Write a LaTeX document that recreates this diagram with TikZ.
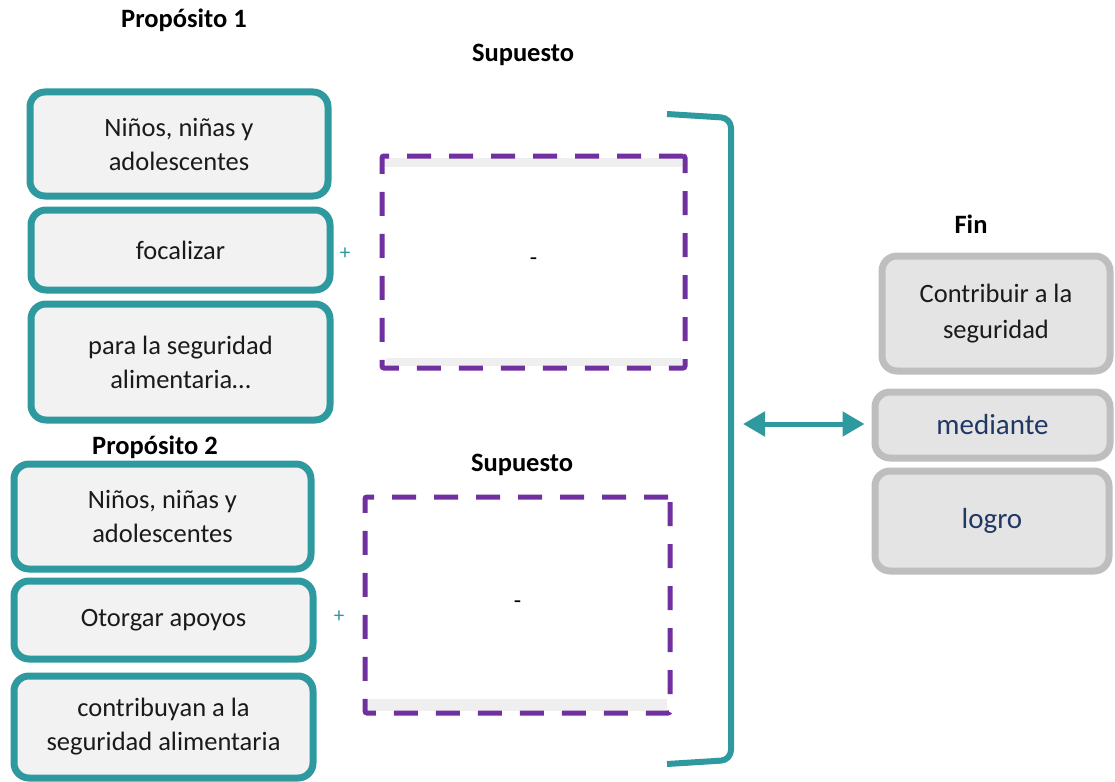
\documentclass[tikz,border=0pt]{standalone}
\usepackage{fontspec}
\setmainfont{Carlito}
\usetikzlibrary{arrows.meta}
\definecolor{tealc}{HTML}{2E9AA0}
\definecolor{purp}{HTML}{7030A0}
\definecolor{lfill}{HTML}{F2F2F2}
\definecolor{rfill}{HTML}{E4E4E4}
\definecolor{rline}{HTML}{BEBEBE}
\definecolor{navy}{HTML}{1F3864}
\definecolor{txt}{HTML}{1A1A1A}
\definecolor{strip}{HTML}{EFEFEF}
\tikzset{
  lbox/.style={draw=tealc, line width=7pt, fill=lfill, rounded corners=15pt, align=center,
    text=txt, font=\fontsize{26.5}{34}\selectfont, inner sep=0pt},
  rbox/.style={draw=rline, line width=7pt, fill=rfill, rounded corners=15pt, align=center,
    text=txt, font=\fontsize{26.5}{36}\selectfont, inner sep=0pt},
  dbox/.style={draw=purp, line width=5pt, dash pattern=on 24pt off 18pt, rounded corners=2pt,
    inner sep=0pt, font=\fontsize{24}{28}\selectfont},
  head/.style={font=\bfseries\fontsize{26.5}{30}\selectfont, text=black, inner sep=0pt},
  plus/.style={text=tealc, font=\fontsize{21}{24}\selectfont, inner sep=0pt},
  bracket/.style={draw=tealc, line width=6pt, rounded corners=10pt},
}
\begin{document}
\begin{tikzpicture}[x=1pt,y=-1pt]
\useasboundingbox[fill=white] (0,0) rectangle (1115,781);
% headings
\node[head] (h1) at (184,20) {Propósito 1};
\node[head] (s1) at (523,55) {Supuesto};
\node[head] (fin) at (971,224) {Fin};
\node[head] (h2) at (155,447) {Propósito 2};
\node[head] (s2) at (522,465) {Supuesto};
% left boxes, purpose 1
\node[lbox, minimum width=298pt, minimum height=104pt] (a1) at (179,144) {Niños, niñas y\\adolescentes};
\node[lbox, minimum width=299pt, minimum height=80pt] (a2) at (180.5,250) {focalizar};
\node[lbox, minimum width=299pt, minimum height=116pt] (a3) at (180.5,362) {para la seguridad\\alimentaria…};
% left boxes, purpose 2
\node[lbox, minimum width=297pt, minimum height=105pt] (b1) at (162.5,516.5) {Niños, niñas y\\adolescentes};
\node[lbox, minimum width=299pt, minimum height=78pt] (b2) at (163.5,620) {Otorgar apoyos};
\node[lbox, minimum width=299pt, minimum height=102pt] (b3) at (163.5,727) {contribuyan a la\\seguridad alimentaria};
% plus signs
\node[plus] (p1) at (345,254) {+};
\node[plus] (p2) at (339,617) {+};
% light strips inside dashed boxes
\fill[strip] (384,158) rectangle (682,167);
\fill[strip] (386,358) rectangle (682,366);
\fill[strip] (368,699) rectangle (667,711);
% dashed boxes
\node[dbox, minimum width=303pt, minimum height=212pt] (d1) at (533.5,262) {-};
\node[dbox, minimum width=305pt, minimum height=216pt] (d2) at (517.5,605) {-};
% bracket
\coordinate (bt) at (667,114);
\coordinate (bb) at (667,764);
\draw[bracket] (bt) -- (731,118) -- (731,760) -- (bb);
% right boxes
\node[rbox, minimum width=228pt, minimum height=115pt] (r1) at (996,313.5) {Contribuir a la\\seguridad};
\node[rbox, minimum width=235pt, minimum height=66pt, text=navy, font=\fontsize{29}{34}\selectfont] (r2) at (992.5,425) {mediante};
\node[rbox, minimum width=234pt, minimum height=100pt, text=navy, font=\fontsize{29}{34}\selectfont] (r3) at (992,521) {logro};
% double arrow
\coordinate (al) at (743,424);
\draw[tealc, line width=5pt, {Triangle[length=22pt,width=24pt]}-{Triangle[length=22pt,width=24pt]}] (al) -- ([xshift=-7pt]r2.west |- al);
\end{tikzpicture}
\end{document}
